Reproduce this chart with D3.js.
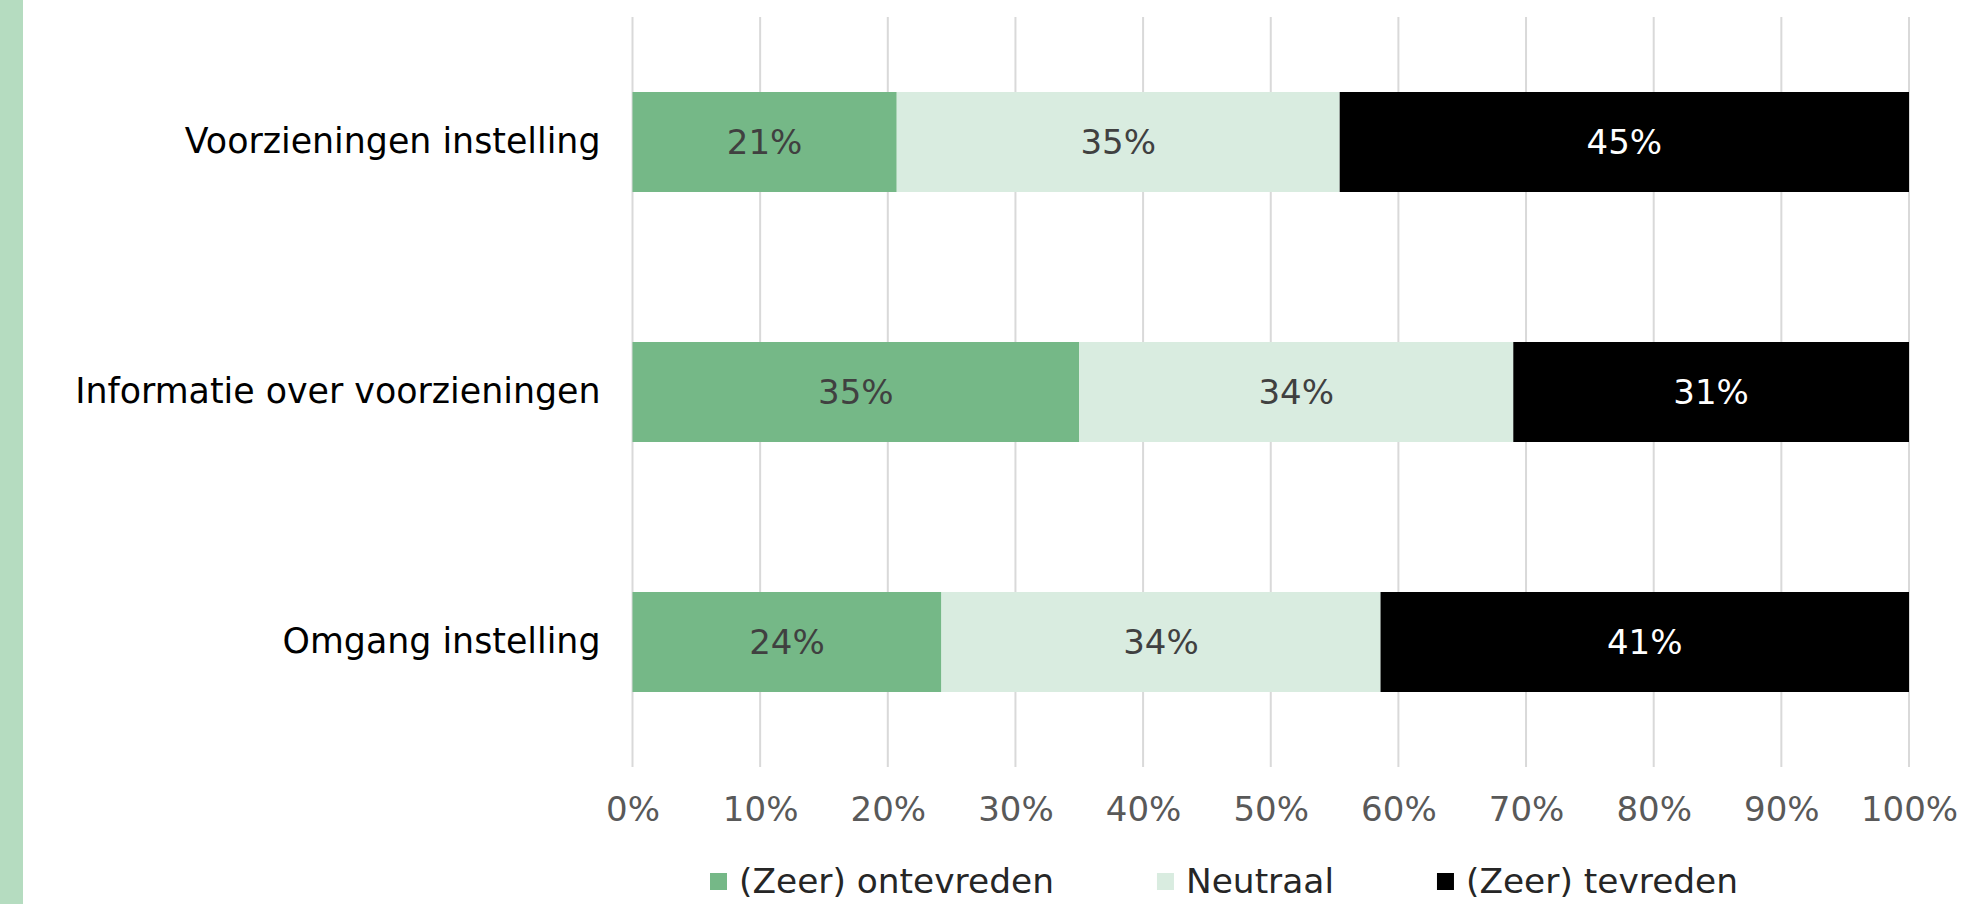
<!DOCTYPE html>
<html>
<head>
<meta charset="utf-8">
<style>
  body { margin: 0; background: #fff; }
  text { font-family: "DejaVu Sans", Verdana, sans-serif; }
</style>
</head>
<body>
<script src="https://cdn.jsdelivr.net/npm/d3@7"></script>
<script>

// data (shares per category)
var categories = ["Voorzieningen instelling", "Informatie over voorzieningen", "Omgang instelling"];
var seriesNames = ["(Zeer) ontevreden", "Neutraal", "(Zeer) tevreden"];
var ontevreden = [0.207, 0.350, 0.242];
var neutraal   = [0.347, 0.340, 0.344];
var tevreden   = [0.446, 0.310, 0.414];
var xTicks = [0, 0.1, 0.2, 0.3, 0.4, 0.5, 0.6, 0.7, 0.8, 0.9, 1];

var colors = ["#75b887", "#d9ece0", "#000000"];
var labelColors = ["#404040", "#404040", "#ffffff"];

var width = 1982, height = 904;
var margin = {top: 17, right: 73, bottom: 137, left: 632.5};

var svg = d3.select("body").append("svg")
    .attr("width", width)
    .attr("height", height);

// green strip at the left edge
svg.append("rect")
    .attr("x", 0).attr("y", 0)
    .attr("width", 23).attr("height", height)
    .attr("fill", "#b5dcc0");

var x = d3.scaleLinear()
    .domain([0, 1])
    .range([margin.left, width - margin.right]);

var y = d3.scaleBand()
    .domain(categories)
    .range([margin.top, height - margin.bottom])
    .paddingInner(0.6)
    .paddingOuter(0.3);

// build rows for the stack
var rows = categories.map((c, i) => ({
  cat: c,
  [seriesNames[0]]: ontevreden[i],
  [seriesNames[1]]: neutraal[i],
  [seriesNames[2]]: tevreden[i]
}));
var stacked = d3.stack().keys(seriesNames)(rows);

// vertical gridlines
svg.append("g")
  .selectAll("line")
  .data(xTicks)
  .join("line")
    .attr("x1", d => x(d))
    .attr("x2", d => x(d))
    .attr("y1", margin.top)
    .attr("y2", height - margin.bottom)
    .attr("stroke", "#d9d9d9")
    .attr("stroke-width", 2);

// x axis labels
var xAxis = svg.append("g")
    .attr("transform", `translate(0,${height - margin.bottom})`)
    .call(d3.axisBottom(x).tickValues(xTicks).tickFormat(d3.format(".0%")).tickSize(0).tickPadding(30));
xAxis.select(".domain").remove();
xAxis.selectAll("text")
    .attr("font-size", 34)
    .attr("fill", "#595959")
    .style("font-family", '"DejaVu Sans", Verdana, sans-serif');

// y axis labels
var yAxis = svg.append("g")
    .attr("transform", `translate(${margin.left},0)`)
    .call(d3.axisLeft(y).tickSize(0).tickPadding(32));
yAxis.select(".domain").remove();
yAxis.selectAll("text")
    .attr("font-size", 34.8)
    .attr("fill", "#000")
    .style("font-family", '"DejaVu Sans", Verdana, sans-serif');

// bars
var layer = svg.append("g")
  .selectAll("g")
  .data(stacked)
  .join("g")
    .attr("fill", (d, i) => colors[i]);

layer.selectAll("rect")
  .data(d => d)
  .join("rect")
    .attr("x", d => x(d[0]))
    .attr("width", d => x(d[1]) - x(d[0]))
    .attr("y", d => y(d.data.cat))
    .attr("height", y.bandwidth());

// data labels
stacked.forEach((s, i) => {
  svg.append("g")
    .selectAll("text")
    .data(s)
    .join("text")
      .attr("x", d => (x(d[0]) + x(d[1])) / 2)
      .attr("y", d => y(d.data.cat) + y.bandwidth() / 2)
      .attr("text-anchor", "middle")
      .attr("dominant-baseline", "central")
      .attr("font-size", 34)
      .attr("fill", labelColors[i])
      .text(d => d3.format(".0%")(d[1] - d[0]));
});

// legend
var legend = svg.append("g").attr("transform", "translate(710,881)");
var lx = 0;
seriesNames.forEach((name, i) => {
  var g = legend.append("g").attr("transform", `translate(${lx},0)`);
  g.append("rect")
      .attr("x", 0).attr("y", -8)
      .attr("width", 17).attr("height", 17)
      .attr("fill", colors[i]);
  var t = g.append("text")
      .attr("x", 29)
      .attr("y", 0)
      .attr("dominant-baseline", "central")
      .attr("font-size", 34.4)
      .attr("fill", "#262626")
      .text(name);
  lx += 29 + t.node().getComputedTextLength() + 103;
});

</script>
</body>
</html>
